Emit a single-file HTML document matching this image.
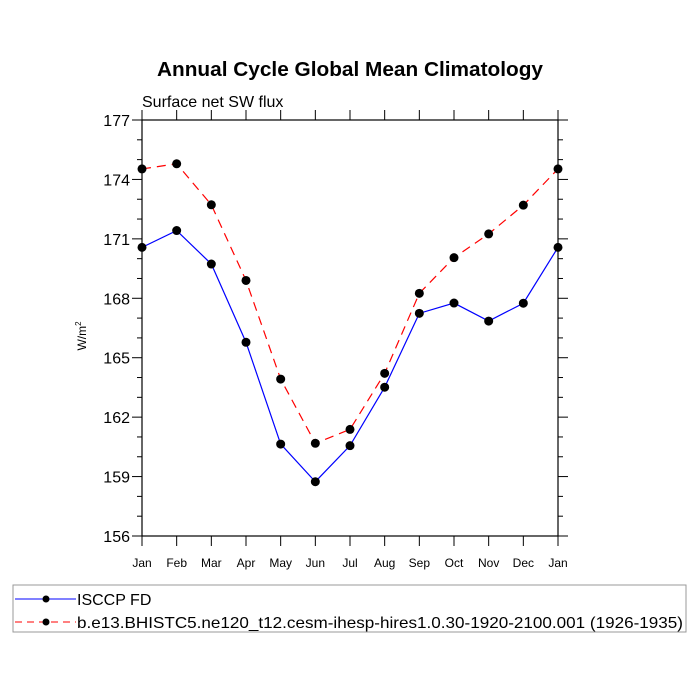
<!DOCTYPE html>
<html><head><meta charset="utf-8"><style>
body{margin:0;background:#fff;}
svg{display:block;font-family:"Liberation Sans",sans-serif;}
</style></head><body>
<svg id="chart" width="700" height="700" xmlns="http://www.w3.org/2000/svg">
<rect width="700" height="700" fill="#fff"/>
<text x="350" y="76" text-anchor="middle" font-size="20" font-weight="bold" textLength="386" lengthAdjust="spacingAndGlyphs">Annual Cycle Global Mean Climatology</text>
<text x="142" y="107" font-size="16">Surface net SW flux</text>
<text transform="translate(86,336) rotate(-90)" text-anchor="middle" font-size="12">W/m<tspan dy="-5" font-size="8">2</tspan></text>
<g id="axes"></g>
<g id="series"></g>
<g>
<rect x="13" y="585" width="673" height="47" fill="none" stroke="#999" stroke-width="1"/>
<line x1="15" y1="599" x2="76" y2="599" stroke="#00f" stroke-width="1"/>
<circle cx="46" cy="599" r="3.5"/>
<text x="77" y="605" font-size="16">ISCCP FD</text>
<line x1="15" y1="622" x2="76" y2="622" stroke="#f00" stroke-width="1" stroke-dasharray="7,5"/>
<circle cx="46" cy="622" r="3.5"/>
<text x="77" y="628" font-size="16" textLength="606" lengthAdjust="spacingAndGlyphs">b.e13.BHISTC5.ne120_t12.cesm-ihesp-hires1.0.30-1920-2100.001 (1926-1935)</text>
</g>
</svg>
<script>
const months = ["Jan","Feb","Mar","Apr","May","Jun","Jul","Aug","Sep","Oct","Nov","Dec","Jan"];
const obsValues = [170.57,171.42,169.73,165.78,160.64,158.74,160.56,163.51,167.24,167.76,166.85,167.75,170.57];
const modelValues = [174.53,174.79,172.72,168.9,163.92,160.68,161.38,164.21,168.25,170.05,171.25,172.70,174.53];
const yTicks = [156,159,162,165,168,171,174,177];
const NS="http://www.w3.org/2000/svg";
const L=142,R=558,T=120,B=536,yMin=156,yMax=177;
const xs=i=>L+i*(R-L)/(months.length-1);
const ys=v=>B-(v-yMin)/(yMax-yMin)*(B-T);
function mk(tag,attrs,parent){const e=document.createElementNS(NS,tag);for(const k in attrs)e.setAttribute(k,attrs[k]);parent.appendChild(e);return e;}
const ax=document.getElementById('axes');
const frame=mk('rect',{x:L,y:T,width:R-L,height:B-T,fill:'none',stroke:'#000','stroke-width':1.2},ax);


for(let v=yMin;v<=yMax;v+=1){
  const y=ys(v);const major=(v-yMin)%3===0;const len=major?10:5;
  mk('line',{x1:L-len,y1:y,x2:L,y2:y,stroke:'#000'},ax);
  mk('line',{x1:R,y1:y,x2:R+len,y2:y,stroke:'#000'},ax);
}
yTicks.forEach(v=>{
  const t=mk('text',{x:L-12,y:ys(v)+6,'text-anchor':'end','font-size':'16'},ax);
  t.textContent=v;
  
  
});
months.forEach((m,i)=>{
  const x=xs(i);
  mk('line',{x1:x,y1:B,x2:x,y2:B+10,stroke:'#000'},ax);
  mk('line',{x1:x,y1:T-10,x2:x,y2:T,stroke:'#000'},ax);
  const t=mk('text',{x:x,y:B+31,'text-anchor':'middle','font-size':'12'},ax);
  t.textContent=m;
  
  
});
const sg=document.getElementById('series');
function series(vals,color,dash,name){
  const g=mk('g',{},sg);
  
  
  const a={points:vals.map((v,i)=>xs(i)+','+ys(v)).join(' '),fill:'none',stroke:color,'stroke-width':1.2};
  if(dash)a['stroke-dasharray']=dash;
  mk('polyline',a,g);
  vals.forEach((v,i)=>{
    const c=mk('circle',{cx:xs(i),cy:ys(v),r:4.5,fill:'#000'},g);
    
    
  });
}
series(modelValues,'#f00','9,6','model-series');
series(obsValues,'#00f',null,'isccp-series');
</script>
</body></html>
